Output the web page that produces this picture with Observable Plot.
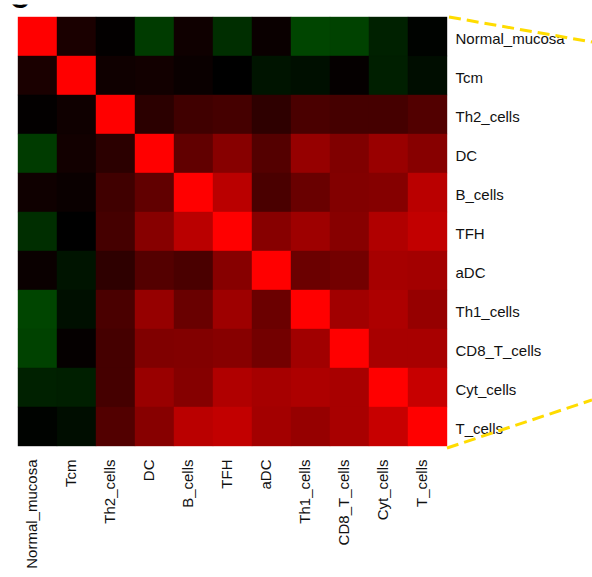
<!DOCTYPE html>
<html>
<head>
<meta charset="utf-8">
<script src="https://cdn.jsdelivr.net/npm/d3@7"></script>
<script src="https://cdn.jsdelivr.net/npm/@observablehq/plot@0.6"></script>
<style>
  html, body { margin: 0; padding: 0; background: #fff; }
  #chart { position: relative; width: 592px; height: 577px; overflow: hidden; }
</style>
</head>
<body>
<div id="chart"></div>
<script>
// Categories (same order on rows top->bottom and columns left->right)
const categories = ["Normal_mucosa", "Tcm", "Th2_cells", "DC", "B_cells", "TFH", "aDC", "Th1_cells", "CD8_T_cells", "Cyt_cells", "T_cells"];

// Correlation matrix rows
const rowNormalMucosa = [ 1.00,  0.10,  0.01, -0.23,  0.06, -0.18,  0.04, -0.27, -0.26, -0.13, -0.01];
const rowTcm          = [ 0.10,  1.00,  0.06,  0.07,  0.04,  0.00, -0.08, -0.06,  0.02, -0.12, -0.05];
const rowTh2          = [ 0.01,  0.06,  1.00,  0.17,  0.25,  0.27,  0.18,  0.29,  0.27,  0.27,  0.32];
const rowDC           = [-0.23,  0.07,  0.17,  1.00,  0.38,  0.53,  0.33,  0.59,  0.50,  0.60,  0.53];
const rowBcells       = [ 0.06,  0.04,  0.25,  0.38,  1.00,  0.73,  0.29,  0.41,  0.51,  0.52,  0.73];
const rowTFH          = [-0.18,  0.00,  0.27,  0.53,  0.73,  1.00,  0.53,  0.62,  0.53,  0.69,  0.76];
const rowADC          = [ 0.04, -0.08,  0.18,  0.33,  0.29,  0.53,  1.00,  0.42,  0.45,  0.65,  0.64];
const rowTh1          = [-0.27, -0.06,  0.29,  0.59,  0.41,  0.62,  0.42,  1.00,  0.63,  0.68,  0.59];
const rowCD8          = [-0.26,  0.02,  0.27,  0.50,  0.51,  0.53,  0.45,  0.63,  1.00,  0.66,  0.66];
const rowCyt          = [-0.13, -0.12,  0.27,  0.60,  0.52,  0.69,  0.65,  0.68,  0.66,  1.00,  0.78];
const rowTcells       = [-0.01, -0.05,  0.32,  0.53,  0.73,  0.76,  0.64,  0.59,  0.66,  0.78,  1.00];

const matrixRows = [rowNormalMucosa, rowTcm, rowTh2, rowDC, rowBcells, rowTFH, rowADC, rowTh1, rowCD8, rowCyt, rowTcells];

const cells = [];
matrixRows.forEach((vals, i) => vals.forEach((v, j) => cells.push({row: categories[i], col: categories[j], value: v})));

const plot = Plot.plot({
  width: 592,
  height: 577,
  marginLeft: 17,
  marginTop: 16,
  marginRight: 144,
  marginBottom: 130,
  style: {fontFamily: "'Liberation Sans', Arial, Helvetica, sans-serif", background: "white", color: "#111"},
  x: {domain: categories, padding: 0, axis: null},
  y: {domain: categories, padding: 0, axis: null},
  color: {type: "linear", domain: [-1, 0, 1], range: ["#00ff00", "#000000", "#ff0000"], interpolate: "rgb"},
  marks: [
    Plot.cell(cells, {x: "col", y: "row", fill: "value", stroke: "value", strokeWidth: 0.4, inset: 0}),
    Plot.axisX({anchor: "bottom", tickSize: 0, tickRotate: -90, textAnchor: "end", tickPadding: 12, fontSize: 15, dx: -5.5, label: null}),
    Plot.axisY({anchor: "right", tickSize: 0, tickPadding: 7, fontSize: 15, dy: 2.4, label: null})
  ]
});

document.getElementById("chart").appendChild(plot);

// Decorations: cropped panel letter and the yellow dashed zoom guides from the frame corners
const svg = d3.select(plot);
const xr = plot.scale("x").range, yr = plot.scale("y").range;
svg.append("clipPath").attr("id", "letter-clip")
  .append("rect").attr("x", 0).attr("y", 4.5).attr("width", 60).attr("height", 10);
svg.append("text").attr("x", 19.5).attr("y", 8).attr("font-size", 27).attr("font-weight", "bold")
  .attr("clip-path", "url(#letter-clip)")
  .attr("font-family", "'Liberation Sans', Arial, sans-serif").attr("fill", "#000").text("C");
const guides = [
  {x1: xr[1] + 1, y1: yr[0] + 1, x2: 592, y2: yr[0] + 26},
  {x1: xr[1] - 1, y1: yr[1] + 1, x2: 592, y2: yr[1] - 47}
];
svg.selectAll("line.guide").data(guides).join("line").attr("class", "guide")
  .attr("x1", d => d.x1).attr("y1", d => d.y1).attr("x2", d => d.x2).attr("y2", d => d.y2)
  .attr("stroke", "#ffdc00").attr("stroke-width", 3).attr("stroke-dasharray", "12,6");
</script>
</body>
</html>
